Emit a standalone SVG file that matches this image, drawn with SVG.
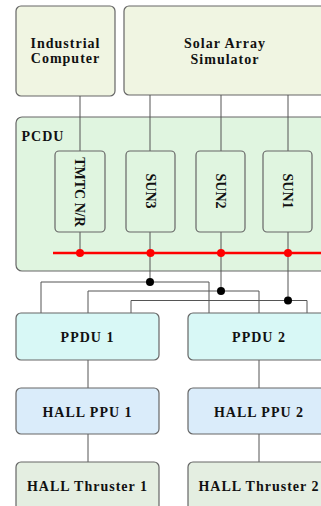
<svg xmlns="http://www.w3.org/2000/svg" width="321" height="506" viewBox="0 0 321 506">
<style>
.box{stroke:#666;stroke-width:1.2}
.t{font-family:"Liberation Serif","Times New Roman",serif;font-weight:bold;font-size:14px;letter-spacing:1px;text-anchor:middle;fill:#111}
.r{font-family:"Liberation Serif","Times New Roman",serif;font-weight:bold;font-size:14px;text-anchor:middle;fill:#111}
.ln{stroke:#555;stroke-width:1;fill:none}
</style>
<rect width="321" height="506" fill="#fff"/>
<g id="industrial-computer">
<rect class="box" x="16" y="6" width="99" height="90" rx="5" fill="#f0f5e2"/>
<text class="t" x="65.5" y="48">Industrial</text>
<text class="t" x="65.5" y="63">Computer</text>
</g>
<g id="solar-array-simulator">
<rect class="box" x="124" y="6" width="210" height="89" rx="5" fill="#f0f5e2"/>
<text class="t" x="225" y="48">Solar Array</text>
<text class="t" x="225" y="64">Simulator</text>
</g>
<g id="pcdu">
<rect class="box" x="16" y="117" width="320" height="154" rx="6" fill="#e0f5e0"/>
<text class="t" x="43" y="141">PCDU</text>
</g>
<g id="connectors">
<path class="ln" d="M80 96V151M150 95V151M221 95V151M288 95V151"/>
<path class="ln" d="M80 232V253M150 232V282M221 232V291M288 232V300.5"/>
<path class="ln" d="M41 313V282H209V313M88 313V291H259V313M131 313V300.5H307V313"/>
<path class="ln" d="M88 360V388M88 434V462M259 360V388M259 434V462"/>
<line x1="53" y1="253" x2="321" y2="253" stroke="#f00" stroke-width="2.5"/>
<g fill="#f00"><circle cx="80" cy="253" r="4"/><circle cx="150.5" cy="253" r="4"/><circle cx="221" cy="253" r="4"/><circle cx="288" cy="253" r="4"/></g>
<g fill="#000"><circle cx="150" cy="282" r="4"/><circle cx="221" cy="291" r="4"/><circle cx="288" cy="300.5" r="4"/></g>
</g>
<g id="tmtc">
<rect class="box" x="55" y="151" width="50" height="81" rx="4" fill="#e0f5e0"/>
<text class="r" transform="translate(75,192) rotate(90)">TMTC N/R</text>
</g>
<g id="sun3">
<rect class="box" x="126" y="151" width="49" height="81" rx="4" fill="#e0f5e0"/>
<text class="r" transform="translate(146,191) rotate(90)">SUN3</text>
</g>
<g id="sun2">
<rect class="box" x="196" y="151" width="49" height="81" rx="4" fill="#e0f5e0"/>
<text class="r" transform="translate(216,191) rotate(90)">SUN2</text>
</g>
<g id="sun1">
<rect class="box" x="263" y="151" width="49" height="81" rx="4" fill="#e0f5e0"/>
<text class="r" transform="translate(283,191) rotate(90)">SUN1</text>
</g>
<g id="ppdu1">
<rect class="box" x="16" y="313" width="143" height="47" rx="5" fill="#d8f8f6"/>
<text class="t" x="87.5" y="342">PPDU 1</text>
</g>
<g id="ppdu2">
<rect class="box" x="188" y="313" width="150" height="47" rx="5" fill="#d8f8f6"/>
<text class="t" x="259" y="342">PPDU 2</text>
</g>
<g id="hallppu1">
<rect class="box" x="16" y="388" width="143" height="46" rx="5" fill="#daecfa"/>
<text class="t" x="87.5" y="416.5">HALL PPU 1</text>
</g>
<g id="hallppu2">
<rect class="box" x="188" y="388" width="150" height="46" rx="5" fill="#daecfa"/>
<text class="t" x="259" y="416.5">HALL PPU 2</text>
</g>
<g id="thruster1">
<rect class="box" x="16" y="462" width="143" height="60" rx="5" fill="#e4eee1"/>
<text class="t" x="87.5" y="490.5">HALL Thruster 1</text>
</g>
<g id="thruster2">
<rect class="box" x="188" y="462" width="150" height="60" rx="5" fill="#e4eee1"/>
<text class="t" x="259" y="490.5">HALL Thruster 2</text>
</g>
</svg>
